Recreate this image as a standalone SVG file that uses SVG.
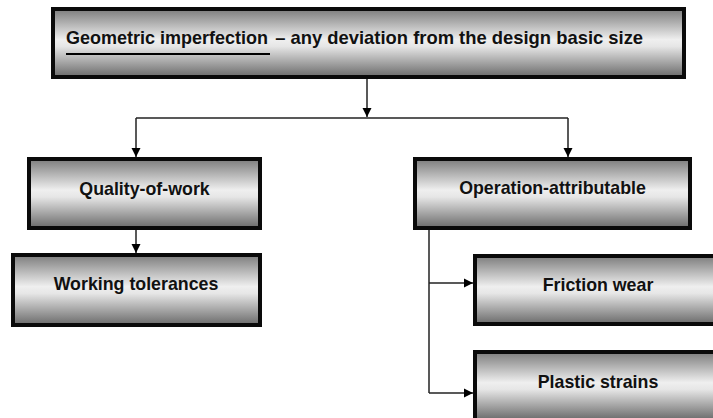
<svg xmlns="http://www.w3.org/2000/svg" width="713" height="418" viewBox="0 0 713 418">
<style>
.box{fill:url(#g);stroke:#0a0a0a;stroke-width:4}
.t{font-family:"Liberation Sans",Arial,sans-serif;font-weight:bold;font-size:17.8px;fill:#111;text-anchor:middle}
.c{fill:none;stroke:#222;stroke-width:1.5}
</style>
<defs>
<linearGradient id="g" x1="0" y1="0" x2="0" y2="1">
<stop offset="0" stop-color="#7c7c7c"/>
<stop offset="0.45" stop-color="#efefef"/>
<stop offset="0.55" stop-color="#e6e6e6"/>
<stop offset="1" stop-color="#6a6a6a"/>
</linearGradient>
<marker id="a" markerWidth="10" markerHeight="10" refX="9" refY="5" orient="auto" markerUnits="userSpaceOnUse">
<path d="M0,0.5 L9,5 L0,9.5 Z" fill="#000"/>
</marker>
</defs>
<g id="connectors">
<path class="c" d="M367,79 V117" marker-end="url(#a)"/>
<path class="c" d="M136,118 H568"/>
<path class="c" d="M136,118 V157" marker-end="url(#a)"/>
<path class="c" d="M568,118 V157" marker-end="url(#a)"/>
<path class="c" d="M136,230 V253" marker-end="url(#a)"/>
<path class="c" d="M429,230 V393"/>
<path class="c" d="M429,283 H473" marker-end="url(#a)"/>
<path class="c" d="M429,393 H473" marker-end="url(#a)"/>
</g>
<g id="top">
<rect class="box" x="53" y="9" width="631" height="68"/>
<text x="66" y="43.5" style="font-family:'Liberation Sans',Arial,sans-serif;font-weight:bold;font-size:18px;fill:#111">Geometric imperfection<tspan dx="2" font-size="18.4px"> – any deviation from the design basic size</tspan></text>
<line x1="66" y1="54" x2="270" y2="54" stroke="#000" stroke-width="2"/>
</g>
<g id="quality">
<rect class="box" x="29" y="159" width="231" height="69"/>
<text class="t" x="144.5" y="195">Quality-of-work</text>
</g>
<g id="working">
<rect class="box" x="13" y="255" width="247" height="70"/>
<text class="t" x="136" y="290">Working tolerances</text>
</g>
<g id="operation">
<rect class="box" x="415" y="159" width="275" height="69"/>
<text class="t" x="552.5" y="194">Operation-attributable</text>
</g>
<g id="friction">
<rect class="box" x="475" y="256" width="246" height="68"/>
<text class="t" x="598" y="291">Friction wear</text>
</g>
<g id="plastic">
<rect class="box" x="475" y="352" width="246" height="68"/>
<text class="t" x="598" y="388">Plastic strains</text>
</g>
</svg>
